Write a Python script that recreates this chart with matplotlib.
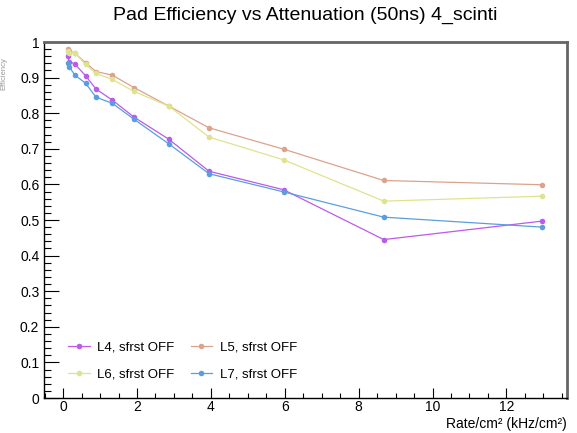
import matplotlib
matplotlib.use("Agg")
import matplotlib.pyplot as plt
from matplotlib.ticker import MultipleLocator

plt.rcParams['font.family'] = ['Liberation Sans', 'DejaVu Sans']

# rate (kHz/cm2) for each point
rate = [0.13, 0.16, 0.32, 0.61, 0.89, 1.33, 1.92, 2.86, 3.95, 5.97, 8.68, 12.97]

eff_L4 = [0.961, 0.945, 0.938, 0.905, 0.868, 0.837, 0.789, 0.727, 0.637, 0.585, 0.445, 0.497]
eff_L5 = [0.980, 0.975, 0.968, 0.942, 0.917, 0.907, 0.872, 0.820, 0.759, 0.699, 0.611, 0.599]
eff_L6 = [0.974, 0.970, 0.970, 0.937, 0.912, 0.895, 0.861, 0.820, 0.733, 0.669, 0.553, 0.567]
eff_L7 = [0.940, 0.931, 0.907, 0.884, 0.845, 0.828, 0.783, 0.714, 0.630, 0.579, 0.508, 0.480]

labels = ["L4, sfrst OFF", "L5, sfrst OFF", "L6, sfrst OFF", "L7, sfrst OFF"]
colors = ["#bb5aec", "#dca38c", "#dfe38e", "#5b9ee0"]

fig = plt.figure(figsize=(5.77, 4.33), dpi=100)
ax = fig.add_axes([0.0754, 0.0808, 0.9073, 0.8222])

lines = {}
for lab, eff, col in zip(labels, [eff_L4, eff_L5, eff_L6, eff_L7], colors):
    ln, = ax.plot(rate, eff, color=col, lw=0.9, marker='o', markersize=4,
                  markeredgewidth=0, label=lab)
    lines[lab] = ln

ax.set_xlim(-0.53, 13.64)
ax.set_ylim(0, 1)

ax.xaxis.set_major_locator(MultipleLocator(2))
ax.xaxis.set_minor_locator(MultipleLocator(0.5))
ax.yaxis.set_minor_locator(MultipleLocator(0.02))
ax.set_yticks([0, 0.1, 0.2, 0.3, 0.4, 0.5, 0.6, 0.7, 0.8, 0.9, 1])
ax.set_yticklabels(["0", "0.1", "0.2", "0.3", "0.4", "0.5", "0.6", "0.7", "0.8", "0.9", "1"])

ax.tick_params(axis='both', which='both', direction='in', top=False, right=False,
               labelsize=10, width=0.8)
ax.tick_params(axis='y', which='major', length=11, pad=3)
ax.tick_params(axis='y', which='minor', length=5)
ax.tick_params(axis='x', which='major', length=7, pad=1.5)
ax.tick_params(axis='x', which='minor', length=3.5)

ax.spines['left'].set_linewidth(1.0)
ax.spines['bottom'].set_linewidth(1.0)
for s in ['top', 'right']:
    ax.spines[s].set_color('#666666')
    ax.spines[s].set_linewidth(2.0)

fig.text(113 / 577, 1 - 20 / 433, "Pad Efficiency vs Attenuation (50ns) 4_scinti",
         fontsize=14, ha='left', va='baseline')
fig.text(567 / 577, 1 - 428 / 433, "Rate/cm\u00b2 (kHz/cm\u00b2)", fontsize=10,
         ha='right', va='baseline')
fig.text(0.001, 0.83, "Efficiency", rotation=90, ha='left', va='center',
         fontsize=5.5, color='#999999')

order = [labels[0], labels[2], labels[1], labels[3]]
ax.legend([lines[k] for k in order], order, ncol=2, frameon=False, fontsize=9.5,
          loc='lower left', bbox_to_anchor=(0.025, 0.016), handlelength=1.6,
          labelspacing=1.1, columnspacing=1.2, handletextpad=0.6)

fig.savefig("out.png", dpi=100)
